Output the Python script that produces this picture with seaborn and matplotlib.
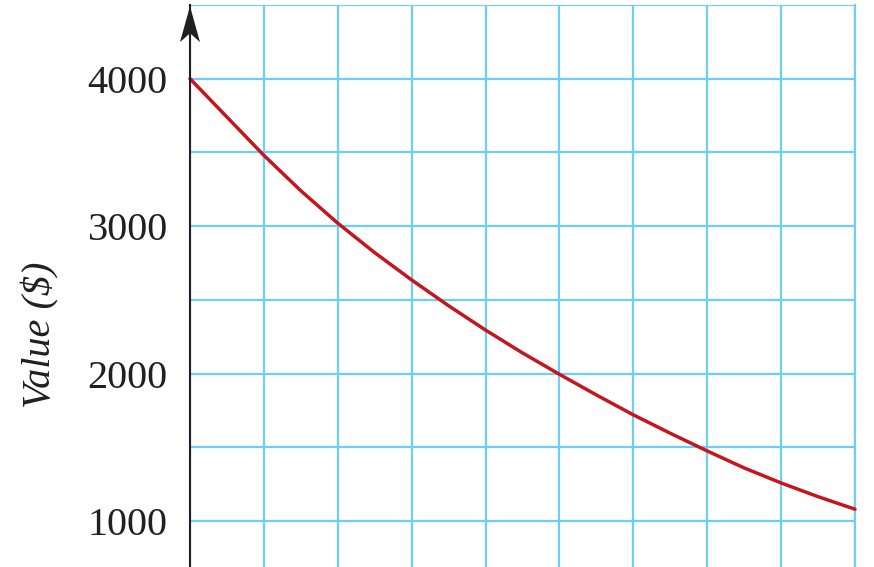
import matplotlib
matplotlib.use("Agg")
import matplotlib.pyplot as plt
from matplotlib.patches import Polygon
import seaborn as sns
import pandas as pd

# Data
years = [0, 0.5, 1, 1.5, 2, 2.5, 3, 3.5, 4, 4.5, 5, 5.5, 6, 6.5, 7, 7.5, 8, 8.5, 9]
values = [4000, 3740, 3480, 3240, 3020, 2820, 2635, 2460, 2295, 2140, 1995,
          1855, 1720, 1595, 1475, 1360, 1258, 1165, 1080]
x_grid = [0, 1, 2, 3, 4, 5, 6, 7, 8, 9]
y_major = [1000, 2000, 3000, 4000]
y_minor = [1500, 2500, 3500, 4500]
y_label = "Value ($)"

sns.set_theme(style="white")
plt.rcParams['font.family'] = ['Liberation Serif', 'DejaVu Serif']

W, H = 874, 567
fig = plt.figure(figsize=(W / 100, H / 100), dpi=100)
ax = fig.add_axes([190 / W, 0, (855 - 190) / W, 1 - 5 / H])

grid_color = "#6DCFF6"
df = pd.DataFrame({"t": years, "v": values})

ax.set_xlim(0, 9)
ax.set_ylim(688, 4500)

ax.set_xticks(x_grid)
ax.set_xticklabels([])
ax.set_yticks(y_major)
ax.set_yticks(y_minor, minor=True)
ax.set_yticklabels([f"{v}" for v in y_major], fontsize=29, color="#231F20")
ax.tick_params(axis="x", length=0)
ax.tick_params(axis="y", which="major", length=8, width=1.4, color="#231F20",
               direction="out", pad=8)
ax.tick_params(axis="y", which="minor", length=0)

ax.grid(True, which="both", color=grid_color, linewidth=1.6)
ax.set_axisbelow(True)

for s in ["top", "bottom"]:
    ax.spines[s].set_visible(False)
ax.spines["right"].set_color(grid_color)
ax.spines["right"].set_linewidth(1.6)
ax.spines["left"].set_color("#231F20")
ax.spines["left"].set_linewidth(1.5)
ax.spines["left"].set_zorder(5)

sns.lineplot(data=df, x="t", y="v", ax=ax, color="#C4161C", linewidth=2.5,
             zorder=4, clip_on=False)

ax.set_xlabel("")
ax.set_ylabel(y_label, fontsize=29, style="italic", color="#231F20")
ax.yaxis.set_label_coords(-0.196, 0.413)

# arrow head at top of y-axis
xpx = 9 / (855 - 190)
ypx = (4500 - 688) / (H - 5)
tip = 4492
arrow = Polygon([[0, tip], [10 * xpx, tip - 36 * ypx], [0, tip - 27 * ypx],
                 [-10 * xpx, tip - 36 * ypx]], closed=True,
                facecolor="#231F20", edgecolor="none", clip_on=False, zorder=6)
ax.add_patch(arrow)

fig.savefig("out.png", dpi=100)
